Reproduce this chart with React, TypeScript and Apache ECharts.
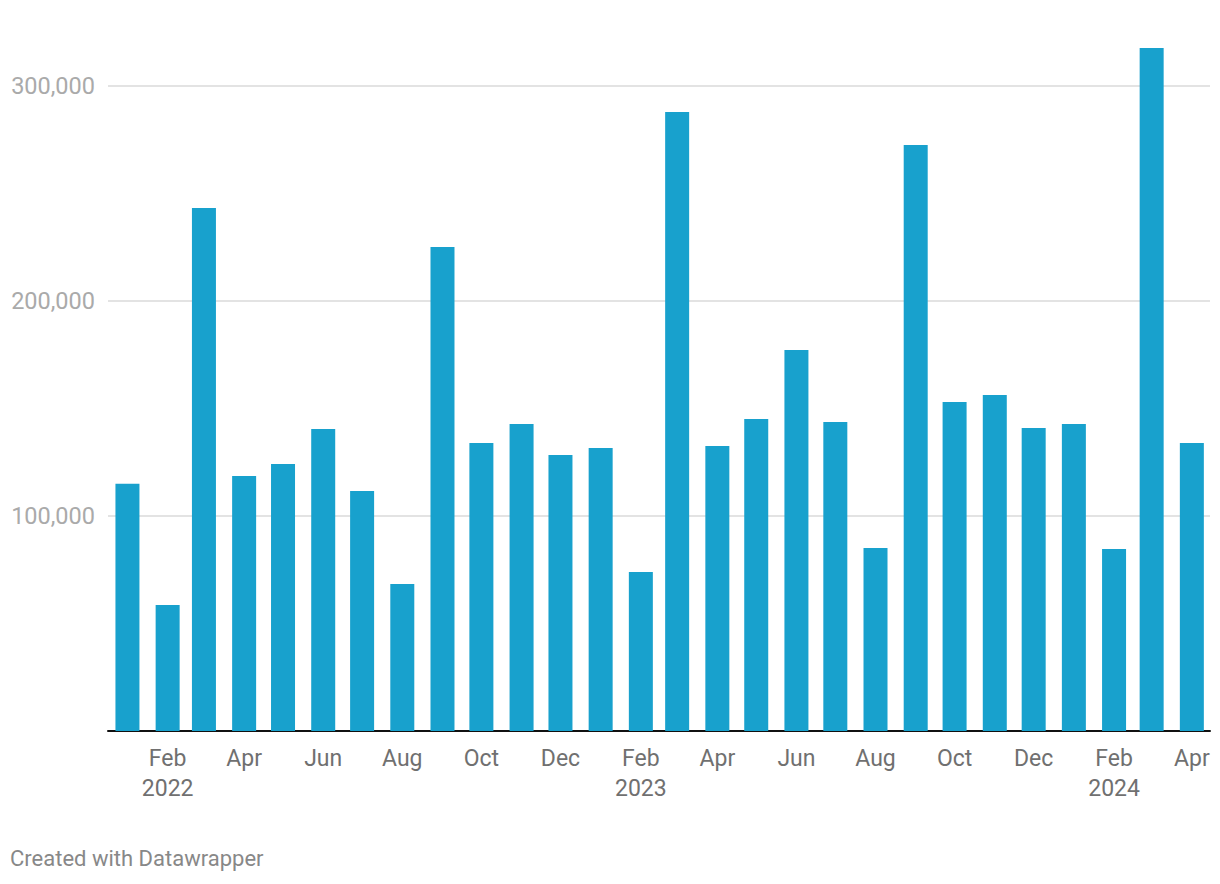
import React, { useEffect, useRef } from "react";
import * as echarts from "echarts";

const months: string[] = [
  "2022-01", "2022-02", "2022-03", "2022-04", "2022-05", "2022-06", "2022-07",
  "2022-08", "2022-09", "2022-10", "2022-11", "2022-12",
  "2023-01", "2023-02", "2023-03", "2023-04", "2023-05", "2023-06", "2023-07",
  "2023-08", "2023-09", "2023-10", "2023-11", "2023-12",
  "2024-01", "2024-02", "2024-03", "2024-04",
];

const values: number[] = [
  115000, 58600, 243300, 118600, 124200, 140500, 111600,
  68400, 225100, 134000, 142800, 128400,
  131600, 74000, 287900, 132600, 145100, 177200, 143700,
  85100, 272600, 153000, 156300, 140900,
  142800, 84700, 317700, 134000,
];

const tickMonths: string[] = [
  "2022-02", "2022-04", "2022-06", "2022-08", "2022-10", "2022-12",
  "2023-02", "2023-04", "2023-06", "2023-08", "2023-10", "2023-12",
  "2024-02", "2024-04",
];

const tickLabels: string[] = [
  "Feb\n2022", "Apr", "Jun", "Aug", "Oct", "Dec",
  "Feb\n2023", "Apr", "Jun", "Aug", "Oct", "Dec",
  "Feb\n2024", "Apr",
];

const yTicks: number[] = [0, 100000, 200000, 300000];

const toTs = (m: string) => {
  const [y, mo] = m.split("-").map(Number);
  return Date.UTC(y, mo - 1, 1);
};

export default function App() {
  const ref = useRef<HTMLDivElement>(null);

  useEffect(() => {
    if (!ref.current) return;
    const chart = echarts.init(ref.current, undefined, { renderer: "svg" });
    const tickTs = tickMonths.map(toTs);
    chart.setOption({
      animation: false,
      backgroundColor: "#ffffff",
      grid: { left: 108, right: 10, top: 86, bottom: 153, containLabel: false },
      xAxis: {
        type: "value",
        min: Date.UTC(2021, 11, 17),
        max: Date.UTC(2024, 3, 15),
        splitLine: { show: false },
        axisTick: { show: false },
        axisLine: { show: true, lineStyle: { color: "#111111", width: 2 } },
        axisLabel: {
          customValues: tickTs,
          formatter: (v: number) => {
            const i = tickTs.indexOf(v);
            return i >= 0 ? tickLabels[i] : "";
          },
          color: "#707070",
          fontFamily: "Roboto",
          fontSize: 23,
          lineHeight: 30,
          margin: 12,
        },
      },
      yAxis: {
        type: "value",
        min: yTicks[0],
        max: yTicks[yTicks.length - 1],
        interval: 100000,
        axisLine: { show: false },
        axisTick: { show: false },
        splitLine: { show: true, lineStyle: { color: "#e3e3e3", width: 2 } },
        axisLabel: {
          showMinLabel: false,
          formatter: (v: number) => v.toLocaleString("en-US"),
          color: "#aaaaaa",
          fontFamily: "Roboto",
          fontSize: 23.5,
          margin: 13,
          align: "right",
        },
      },
      series: [
        {
          type: "bar",
          data: months.map((m, i) => [toTs(m), values[i]]),
          barWidth: 24,
          clip: false,
          itemStyle: { color: "#18a1cd" },
        },
      ],
      graphic: [
        {
          type: "text",
          left: 10,
          top: 847,
          style: {
            text: "Created with Datawrapper",
            fill: "#888888",
            font: "22px Roboto",
          },
        },
      ],
    });
    return () => chart.dispose();
  }, []);

  return (
    <div
      ref={ref}
      style={{ position: "absolute", left: 0, top: 0, width: 1220, height: 884 }}
    />
  );
}
